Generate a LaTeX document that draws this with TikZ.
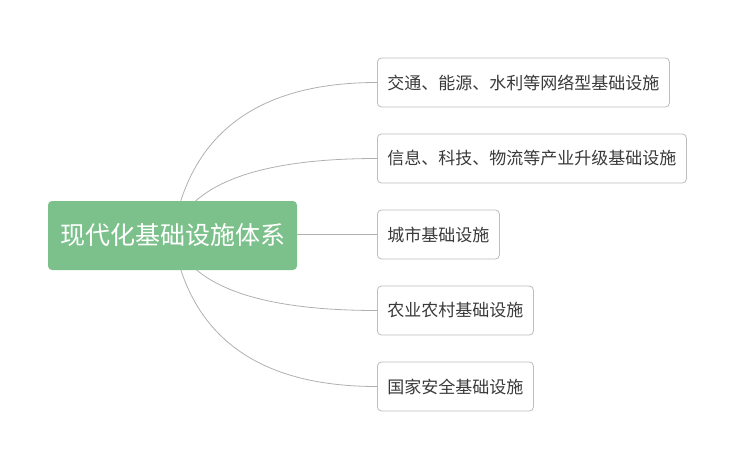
\documentclass[tikz,border=0pt]{standalone}
\usepackage{fontspec}
\setmainfont{Noto Sans CJK SC}
\usepackage{xcolor}
\usepackage{tikz}
\usetikzlibrary{calc,positioning,backgrounds}
\definecolor{RootGreen}{HTML}{7CC18B}
\definecolor{BoxLine}{HTML}{BDBDBD}
\definecolor{LinkGray}{HTML}{B0B0B0}
\definecolor{Ink}{HTML}{3A3A3A}

\begin{document}
\begin{tikzpicture}[x=1pt,y=-1pt,
  rootbox/.style={fill=RootGreen,text=white,rounded corners=4pt,minimum width=249pt,minimum height=69pt,inner xsep=12pt,font=\fontsize{25}{28}\selectfont},
  leafbox/.style={draw=BoxLine,line width=0.8pt,fill=white,text=Ink,rounded corners=4pt,minimum height=49pt,inner xsep=10pt,anchor=west,font=\fontsize{17}{20}\selectfont},
  link/.style={LinkGray,line width=0.8pt}]
\useasboundingbox (0,0) rectangle (750,466);
\node[rootbox] (root) at (172.5,235.5) {现代化基础设施体系};
\node[leafbox] (net) at (377,82.5) {交通、能源、水利等网络型基础设施};
\node[leafbox] (ind) at (377,158.5) {信息、科技、物流等产业升级基础设施};
\node[leafbox] (city) at (377,234.5) {城市基础设施};
\node[leafbox] (farm) at (377,310.5) {农业农村基础设施};
\node[leafbox] (safe) at (377,386.5) {国家安全基础设施};
% bend column for the quadratic links
\coordinate (hub) at ([xshift=25pt]root.center);
\begin{scope}[on background layer]
\foreach \leaf in {net,ind,farm,safe}
  \draw[link] (root.center) .. controls ($(root.center)!2/3!(hub |- \leaf.west)$) and ($(\leaf.west)!2/3!(hub |- \leaf.west)$) .. (\leaf.west);
\draw[link] (root.east |- city.west) -- (city.west);
\end{scope}
\end{tikzpicture}
\end{document}
